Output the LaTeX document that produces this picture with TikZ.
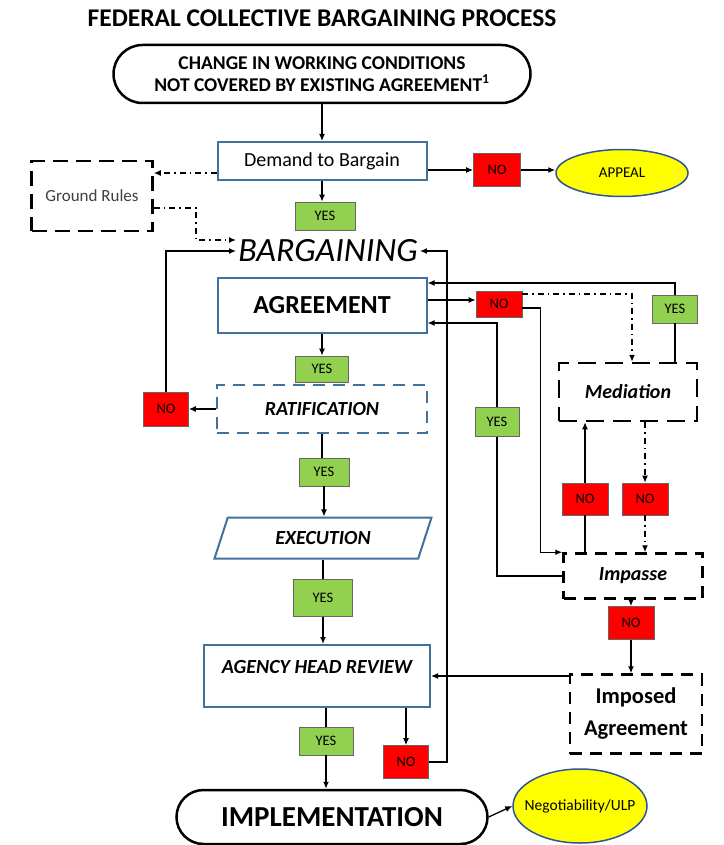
\documentclass[tikz,border=0pt]{standalone}
\usepackage{fontspec}
\setmainfont{Carlito}
\usetikzlibrary{shapes.geometric,arrows.meta}

\definecolor{boxblue}{HTML}{41719C}
\definecolor{nored}{HTML}{FF0000}
\definecolor{yesgreen}{HTML}{92D050}
\definecolor{ovalyellow}{HTML}{FFFF00}
\definecolor{ovalblue}{HTML}{2F5597}
\newcommand{\fsz}[1]{\fontsize{#1}{#1}\selectfont}

\begin{document}
\begin{tikzpicture}[x=1pt, y=-1pt,
        box/.style={draw=boxblue, line width=2pt, fill=white, inner sep=0pt, align=center},
        dbox/.style={draw, line width=2.5pt, dash pattern=on 12pt off 8pt, fill=white, inner sep=0pt, align=center},
        yesbox/.style={draw=black!60, fill=yesgreen, line width=0.7pt, inner sep=0pt, font=\fsz{14.5}},
        nobox/.style={draw=black!60, fill=nored, line width=0.7pt, inner sep=0pt, font=\fsz{14.5}},
        oval/.style={ellipse, draw=ovalblue, line width=1.5pt, fill=ovalyellow, inner sep=0pt},
        term/.style={draw, line width=2.5pt, fill=white, inner sep=0pt, align=center},
        link/.style={line width=1.3pt},
        flow/.style={link, -{Latex[length=7pt,width=6pt]}},
        ddline/.style={link, dash pattern=on 6pt off 4pt on 1.5pt off 4pt}]
        \useasboundingbox (0,0) rectangle (723,845);

        \node[font=\bfseries\fsz{25.5}] (title) at (322,18) {FEDERAL COLLECTIVE BARGAINING PROCESS};
        \node[term, rounded corners=29pt, minimum width=417pt, minimum height=58pt,
              font=\bfseries\fontsize{19.5}{22}\selectfont] (change) at (322,74)
              {CHANGE IN WORKING CONDITIONS\\NOT COVERED BY EXISTING AGREEMENT\textsuperscript{1}};

        % main column
        \node[box, minimum width=209pt, minimum height=38pt, font=\fsz{20}] (demand) at (322,161) {Demand to Bargain};
        \node[yesbox, minimum width=60pt, minimum height=28pt] (yes1) at (325,216) {YES};
        \node[font=\itshape\fsz{34}, inner sep=2pt] (barg) at (328,251) {BARGAINING};
        \node[box, minimum width=209pt, minimum height=55pt, font=\bfseries\fsz{26}] (agree) at (322,305) {AGREEMENT};
        \node[yesbox, minimum width=53pt, minimum height=26pt] (yes2) at (322,369) {YES};
        \node[box, dash pattern=on 12pt off 8pt, minimum width=210pt, minimum height=48pt,
              font=\bfseries\itshape\fsz{20}] (ratif) at (322,409) {RATIFICATION};
        \node[yesbox, minimum width=50pt, minimum height=28pt] (yes3) at (324,472) {YES};
        \node[box, trapezium, trapezium left angle=45, trapezium right angle=135, trapezium stretches body=true,
              minimum width=217pt, minimum height=41pt, font=\bfseries\itshape\fsz{20}] (exec) at (323,538) {EXECUTION};
        \node[yesbox, minimum width=59pt, minimum height=37pt] (yes4) at (323,598) {YES};
        \node[box, minimum width=226pt, minimum height=62pt, text height=13pt, text depth=19pt,
              font=\bfseries\itshape\fsz{20}] (agency) at (317,676) {AGENCY HEAD REVIEW};
        \node[yesbox, minimum width=54pt, minimum height=28pt] (yes5) at (326,741) {YES};
        \node[nobox, minimum width=45pt, minimum height=33pt] (no4) at (406,762) {NO};
        \node[term, rounded corners=27pt, minimum width=311pt, minimum height=54pt,
              font=\bfseries\fsz{29}] (impl) at (332,817) {IMPLEMENTATION};
        \node[oval, inner xsep=-8pt, minimum width=134pt, minimum height=74pt, font=\fsz{15.5}] (negot) at (580,806) {Negotiability/ULP};

        % left and top side
        \node[dbox, dash pattern=on 15pt off 8pt, minimum width=121pt, minimum height=70pt,
              font=\fsz{17}, text=black!75] (ground) at (92,196) {Ground Rules};
        \node[nobox, minimum width=47pt, minimum height=33pt] (no1) at (497,170) {NO};
        \node[oval, minimum width=132pt, minimum height=47pt, font=\fsz{15}] (appeal) at (622,173) {APPEAL};
        \node[nobox, minimum width=45pt, minimum height=34pt] (no3) at (166,409) {NO};

        % right side
        \node[nobox, minimum width=46pt, minimum height=26pt] (no2) at (499,304) {NO};
        \node[yesbox, minimum width=45pt, minimum height=28pt] (yes6) at (675,309) {YES};
        \node[dbox, dash pattern=on 18pt off 9pt, minimum width=138pt, minimum height=58pt,
              font=\bfseries\itshape\fsz{20}] (mediation) at (628,392) {Mediation};
        \node[yesbox, minimum width=44pt, minimum height=29pt] (yes7) at (497,422) {YES};
        \node[nobox, minimum width=46pt, minimum height=32pt] (no5) at (585,499) {NO};
        \node[nobox, minimum width=46pt, minimum height=32pt] (no6) at (645,499) {NO};
        \node[dbox, minimum width=139pt, minimum height=45pt, font=\bfseries\itshape\fsz{20}] (impasse) at (633,576) {Impasse};
        \node[nobox, minimum width=46pt, minimum height=33pt] (no7) at (631,623) {NO};
        \node[dbox, minimum width=132pt, minimum height=79pt, font=\bfseries\fontsize{22.5}{32}\selectfont] (imposed) at (636,714) {Imposed\\Agreement};

        \coordinate (grnd) at (196,240);
        \coordinate (back) at (447,251);

        % connectors
        \draw[flow] (change.south) -- (demand.north);
        \draw[flow] (demand.south) -- (demand.south |- yes1.north);
        \draw[flow] (demand.east |- no1) -- (no1.west);
        \draw[flow] (no1.east) -- (appeal.west |- no1);
        \draw[ddline, -{Latex[length=7pt,width=6pt]}] (demand.west |- 0,173) -- (ground.east |- 0,173);
        \draw[ddline, -{Latex[length=7pt,width=6pt]}] (ground.east |- 0,208) -| (grnd) -- (barg.west |- grnd);
        \draw[flow] (no3.north) |- (barg.west);
        \draw[flow] (no4.east) -| (back) -- (barg.east);
        \draw[flow] (agree.south) -- (yes2.north);
        \draw[flow] (ratif.west) -- (no3.east);
        \draw[link] (ratif.south) -- (ratif.south |- yes3.north);
        \draw[flow] (yes3.south) -- (yes3.south |- exec.north);
        \draw[link] (exec.south) -- (exec.south |- yes4.north);
        \draw[flow] (yes4.south) -- (yes4.south |- agency.north);
        \draw[link] (agency.south -| yes5) -- (yes5.north);
        \draw[flow] (yes5.south) -- (yes5.south |- impl.north);
        \draw[flow] (agency.south -| no4) -- (no4.north);
        \draw[flow] (impl.east) -- (negot.west);

        \draw[flow] (agree.east |- 0,300) -- (no2.west |- 0,300);
        \draw[ddline, -{Latex[length=7pt,width=6pt]}] (no2.east |- 0,294) -| ([xshift=4pt]mediation.north);
        \draw[flow] (no2.east |- 0,308) -| ([xshift=-22pt]impasse.north west) -- (impasse.north west);
        \draw[link] (mediation.north -| yes6) -- (yes6.south);
        \draw[flow] (yes6.north) |- (agree.east |- 0,283);
        \draw[link] (impasse.west) -| (yes7.south);
        \draw[flow] (yes7.north) |- (agree.east |- 0,323);
        \draw[link] (impasse.north -| no5) -- (no5.south);
        \draw[flow] (no5.north) -- (mediation.south -| no5);
        \draw[ddline, -{Latex[length=7pt,width=6pt]}] (mediation.south -| no6) -- (no6.north);
        \draw[ddline, -{Latex[length=7pt,width=6pt]}] (no6.south) -- (impasse.north -| no6);
        \draw[flow] (impasse.south -| no7) -- (no7.north);
        \draw[flow] (no7.south) -- (no7.south |- imposed.north);
        \draw[flow] (imposed.west |- agency.east) -- (agency.east);
    \end{tikzpicture}
\end{document}
